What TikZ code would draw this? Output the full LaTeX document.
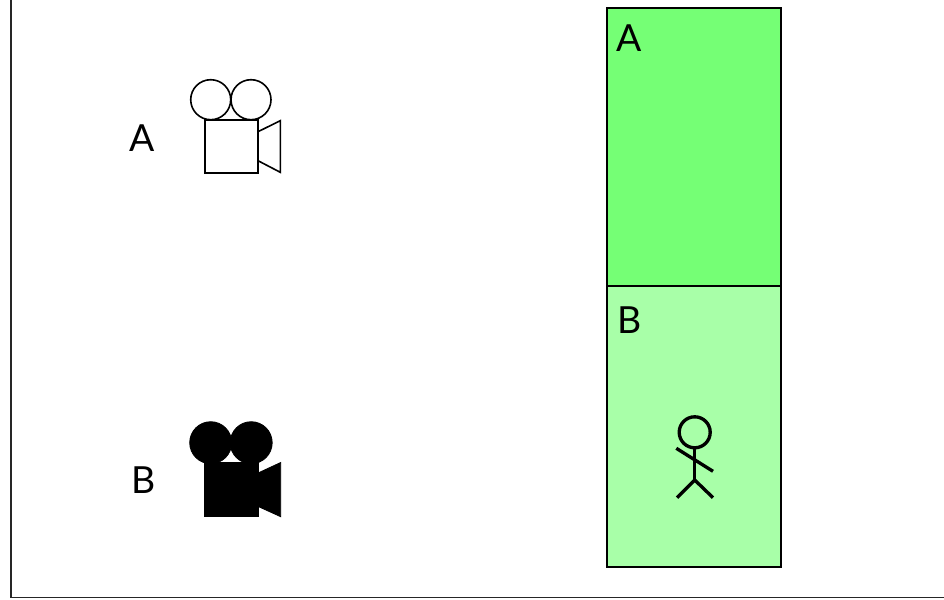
\documentclass[tikz,border=0pt]{standalone}
\usepackage{fontspec}
\setmainfont{Lato}
\tikzset{
  x=0.75pt,y=-0.75pt,
  outline/.style={draw=black,line width=1.2pt,fill=none,line join=miter},
  solidpart/.style={draw=black,fill=black,line width=0.6pt},
  zone/.style={draw=black,line width=1.25pt},
  figureline/.style={draw=black,line width=2.5pt},
  letter/.style={inner sep=0pt,outer sep=0pt,anchor=base,font=\fontsize{28}{30}\selectfont,text=black}
}
\definecolor{zoneA}{HTML}{75FF75}
\definecolor{zoneB}{HTML}{A8FFA8}
\begin{document}
\begin{tikzpicture}
\useasboundingbox (0,0) rectangle (944,599);
% frame
\draw[line width=1.1pt,draw=black!85] (11,0) -- (11,597.5) -- (944,597.5);
% camera A
\draw[outline] (210.7,99.7) circle (20);
\draw[outline] (251,99.7) circle (20);
\draw[outline] (205,120) rectangle (258,172.7);
\draw[outline] (258,131.7) -- (280.3,120.7) -- (280.3,172.3) -- (258,160.7);
\node[letter] (labelCamA) at (142.3,151.5) {A};
% camera B
\fill[solidpart] (210.7,442.7) circle (21);
\fill[solidpart] (251.2,442.7) circle (21);
\fill[solidpart] (204.5,462) rectangle (258.7,516.7);
\fill[solidpart] (258.7,472.7) -- (280.7,462.5) -- (280.7,516.7) -- (258.7,506.7) -- cycle;
\node[letter] (labelCamB) at (143.3,493) {B};
% zones
\draw[zone,fill=zoneA] (607,8) rectangle (781,286);
\draw[zone,fill=zoneB] (607,286) rectangle (781,567);
\node[letter] (labelZoneA) at (628.8,51.7) {A};
\node[letter] (labelZoneB) at (629.3,333) {B};
% person
\draw[figureline] (694.7,432.3) circle (15.5);
\draw[figureline] (694.7,447.8) -- (694.7,480);
\draw[figureline] (676.3,448.3) -- (713,471.3);
\draw[figureline] (677,497.7) -- (694.7,480) -- (713,497.7);
\end{tikzpicture}
\end{document}
